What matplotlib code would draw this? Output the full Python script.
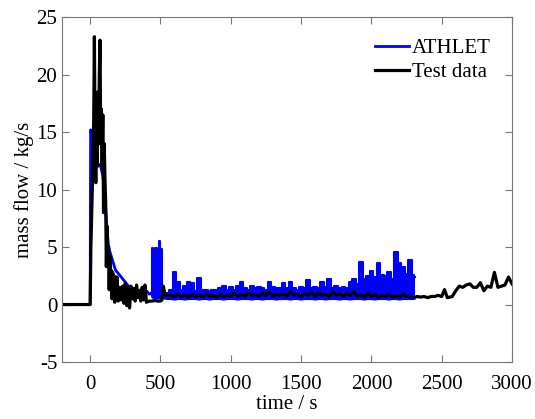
import matplotlib
matplotlib.use("Agg")
import matplotlib.pyplot as plt

# ATHLET calculation, single line part (s, kg/s)
t_athlet = [-200, 0, 3, 10, 20, 30, 45, 60, 75, 90,
            100, 110, 120, 130, 140, 150, 165, 180, 200, 220,
            240, 260, 280, 300, 320, 340, 360, 380, 400, 420,
            435]
m_athlet = [0, 0, 15.2, 14.8, 13.8, 13.0, 12.4, 12.2, 12.0, 11.2,
            10.0, 8.5, 6.5, 5.2, 4.6, 4.2, 3.6, 3.0, 2.7, 2.4,
            2.1, 1.8, 1.5, 1.4, 1.2, 1.1, 1.3, 1.0, 1.2, 0.9,
            1.0]

# ATHLET, fast oscillating part: lower / upper envelope
t_band = [435, 440, 455, 470, 485, 495, 505, 512, 525,
          550, 575, 600, 625, 650, 675, 700, 725, 750, 775,
          800, 825, 850, 875, 900, 925, 950, 975, 1000, 1025,
          1050, 1075, 1100, 1125, 1150, 1175, 1200, 1225, 1250, 1275,
          1300, 1325, 1350, 1375, 1400, 1425, 1450, 1475, 1500, 1525,
          1550, 1575, 1600, 1625, 1650, 1675, 1700, 1725, 1750, 1775,
          1800, 1825, 1850, 1875, 1900, 1925, 1950, 1975, 2000, 2025,
          2050, 2075, 2100, 2125, 2150, 2175, 2200, 2225, 2250, 2275,
          2300, 2312]
band_hi = [1.0, 4.9, 4.6, 4.9, 4.7, 5.5, 4.8, 1.1, 1.0,
           1.0, 1.3, 2.8, 2.0, 1.3, 1.6, 2.0, 1.9, 1.2, 2.3,
           1.3, 1.3, 1.2, 1.3, 1.3, 1.4, 1.6, 1.3, 1.5, 1.3,
           1.6, 2.0, 1.4, 1.3, 1.6, 1.4, 1.5, 1.4, 1.3, 2.0,
           1.5, 1.4, 1.4, 1.9, 1.4, 2.0, 1.4, 1.3, 1.5, 1.4,
           2.1, 1.4, 1.5, 1.4, 2.0, 1.5, 2.2, 1.4, 1.6, 1.4,
           1.5, 1.4, 2.0, 2.2, 1.8, 3.7, 2.2, 2.5, 2.9, 2.4,
           3.6, 2.6, 2.5, 2.8, 2.2, 4.6, 3.6, 3.3, 2.7, 3.9,
           2.6, 2.4]
band_lo = [0.9, 0.6, 0.5, 0.5, 0.5, 0.5, 0.5, 0.5, 0.5,
           0.45, 0.45, 0.4, 0.45, 0.45, 0.4, 0.45, 0.45, 0.45, 0.4,
           0.45, 0.45, 0.4, 0.45, 0.45, 0.45, 0.4, 0.45, 0.45, 0.45,
           0.4, 0.45, 0.45, 0.45, 0.4, 0.45, 0.45, 0.4, 0.45, 0.45,
           0.45, 0.4, 0.45, 0.45, 0.45, 0.4, 0.45, 0.45, 0.4, 0.45,
           0.45, 0.45, 0.4, 0.45, 0.45, 0.4, 0.45, 0.45, 0.45, 0.4,
           0.45, 0.45, 0.4, 0.45, 0.45, 0.45, 0.4, 0.45, 0.45, 0.4,
           0.45, 0.45, 0.45, 0.4, 0.45, 0.45, 0.4, 0.45, 0.45, 0.45,
           0.45, 0.5]

# Test data (s, kg/s)
t_test = [-200, 0, 5, 15, 25, 30, 35, 40, 45, 50,
          55, 60, 65, 70, 75, 80, 85, 90, 95, 100,
          105, 110, 115, 120, 125, 130, 135, 140, 145, 150,
          155, 160, 165, 170, 175, 180, 185, 190, 200, 210,
          220, 230, 240, 250, 260, 270, 280, 290, 300, 310,
          320, 330, 340, 350, 360, 370, 380, 390, 400, 420,
          440, 460, 480, 500, 510, 520, 530, 540, 575, 600,
          625, 650, 675, 700, 725, 750, 775, 800, 825, 850,
          875, 900, 925, 950, 975, 1000, 1025, 1050, 1075, 1100,
          1125, 1150, 1175, 1200, 1225, 1250, 1275, 1300, 1325, 1350,
          1375, 1400, 1425, 1450, 1475, 1500, 1525, 1550, 1575, 1600,
          1625, 1650, 1675, 1700, 1725, 1750, 1775, 1800, 1825, 1850,
          1875, 1900, 1925, 1950, 1975, 2000, 2025, 2050, 2075, 2100,
          2125, 2150, 2175, 2200, 2225, 2250, 2275, 2300, 2325, 2350,
          2375, 2400, 2425, 2450, 2475, 2500, 2520, 2540, 2575, 2600,
          2625, 2650, 2675, 2700, 2725, 2750, 2775, 2800, 2825, 2850,
          2875, 2900, 2925, 2950, 2975, 3000]
m_test = [0, 0, 5, 10, 16, 23.3, 14, 10.6, 18, 12,
          18.5, 14, 20, 23.0, 14, 17, 12, 16.5, 8, 14,
          11, 9, 3.3, 6.8, 3.5, 5, 1.3, 4.2, 2.0, 3.0,
          0.5, 2.8, 1.0, 2.5, 0.2, 1.8, 0.5, 2.4, 0.3, 1.5,
          0.4, 1.6, 0.1, 1.9, -0.1, 1.5, -0.3, 1.6, 0.5, 1.4,
          0.3, 1.7, 0.6, 1.2, 0.3, 1.5, 0.4, 1.7, 0.2, 0.3,
          0.3, 0.35, 0.3, 0.3, 0.4, 1.6, 1.0, 0.8, 0.8, 0.7,
          0.9, 0.7, 0.8, 0.6, 0.9, 0.7, 0.8, 0.7, 0.9, 0.7,
          0.8, 0.6, 0.9, 0.7, 0.8, 0.7, 1.0, 0.7, 0.9, 0.7,
          1.0, 0.8, 0.9, 0.7, 1.0, 0.8, 1.1, 0.7, 0.9, 0.8,
          1.0, 0.7, 1.1, 0.8, 0.9, 0.7, 1.0, 0.8, 1.1, 0.7,
          1.0, 0.8, 0.9, 0.7, 1.1, 0.8, 1.0, 0.7, 1.0, 0.8,
          1.1, 0.7, 0.9, 0.6, 1.0, 0.7, 0.9, 0.6, 0.8, 0.7,
          0.9, 0.6, 0.8, 0.6, 0.9, 0.7, 0.7, 0.6, 0.7, 0.65,
          0.7, 0.6, 0.7, 0.7, 0.8, 0.7, 1.3, 0.6, 0.7, 1.2,
          1.6, 1.5, 1.7, 1.8, 1.5, 1.5, 1.9, 1.2, 1.6, 1.5,
          2.8, 1.5, 1.6, 1.7, 2.4, 1.8]

plt.rcParams["font.family"] = ["Liberation Serif", "DejaVu Serif"]
plt.rcParams["axes.unicode_minus"] = False

fig = plt.figure(figsize=(5.35, 4.19), dpi=100)
ax = fig.add_axes([0.116, 0.136, 0.841, 0.823])

blue = "#0000ff"
ax.plot(t_athlet, m_athlet, color=blue, lw=2, label="ATHLET")
ax.fill_between(t_band, band_lo, band_hi, color=blue, lw=0, step="mid")
ax.plot(t_band, band_hi, color=blue, lw=1.5, drawstyle="steps-mid")
ax.plot(t_band, band_lo, color=blue, lw=1)
ax.plot(t_test, m_test, color="black", lw=2.3, label="Test data")

ax.set_xlim(-200, 3000)
ax.set_ylim(-5, 25)
ax.set_xticks(range(0, 3001, 500))
ax.set_yticks(range(-5, 26, 5))
ax.set_xlabel("time / s", fontsize=15, labelpad=1)
ax.set_ylabel("mass flow / kg/s", fontsize=15, labelpad=2)
ax.tick_params(direction="in", top=True, right=True, labelsize=15,
               length=5, color="#777777")
ax.tick_params(axis="x", pad=9)
for s in ax.spines.values():
    s.set_color("#777777")
    s.set_linewidth(0.8)

ax.legend(loc="upper right", frameon=False, fontsize=15, handlelength=1.6,
          handletextpad=0.15, labelspacing=0.2, borderaxespad=0.3,
          bbox_to_anchor=(0.985, 0.98))

fig.savefig("out.png", dpi=100)
